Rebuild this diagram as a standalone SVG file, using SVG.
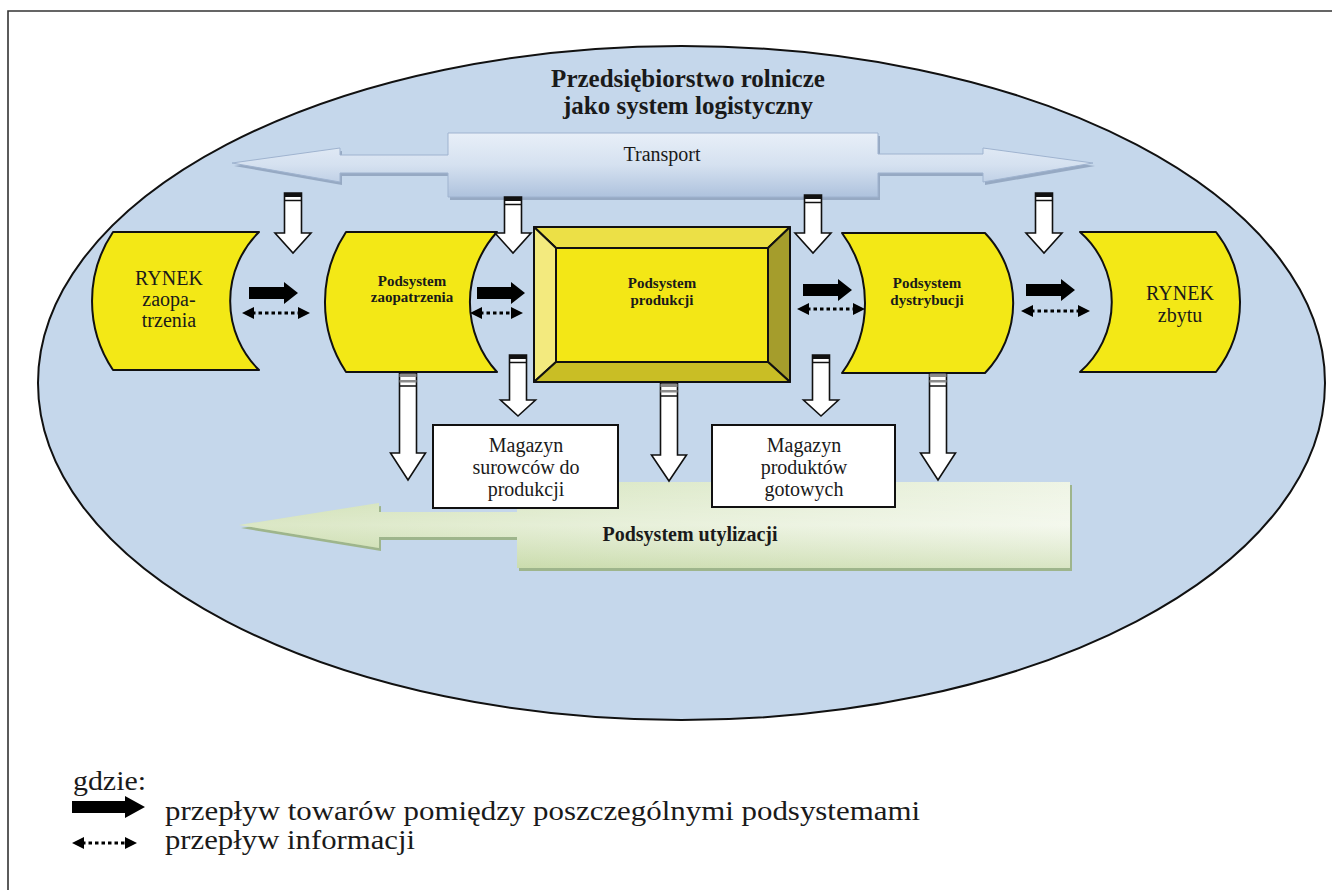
<svg xmlns="http://www.w3.org/2000/svg" width="1332" height="890" viewBox="0 0 1332 890">
<style>
.serif{font-family:"Liberation Serif","Times New Roman",serif;fill:#1a1a1a}
.b{font-weight:bold}
.node{fill:#f3e816;stroke:#111;stroke-width:2;stroke-linejoin:round}
.blk{fill:#fff;stroke:#111;stroke-width:1.6;stroke-linejoin:miter}
.thick{fill:#000}
.dotted{stroke:#000;stroke-width:3.2;stroke-dasharray:3.5 3}
.bev{stroke:#111;stroke-width:2;stroke-linejoin:round}
.box{fill:#fff;stroke:#111;stroke-width:2}
</style>
<defs>
<linearGradient id="tg" x1="0" y1="0" x2="0" y2="1">
<stop offset="0" stop-color="#e8eff8"/>
<stop offset="0.5" stop-color="#d5e1f0"/>
<stop offset="1" stop-color="#aec2dd"/>
</linearGradient>
<linearGradient id="ug" x1="0" y1="0" x2="1" y2="0">
<stop offset="0" stop-color="#c7daa6"/>
<stop offset="0.45" stop-color="#dbe8c6"/>
<stop offset="1" stop-color="#eef4e4"/>
</linearGradient>
<linearGradient id="ug2" x1="0" y1="0" x2="0" y2="1">
<stop offset="0" stop-color="#ffffff" stop-opacity="0.05"/>
<stop offset="0.5" stop-color="#ffffff" stop-opacity="0.35"/>
<stop offset="1" stop-color="#b9cf94" stop-opacity="0.4"/>
</linearGradient>
<marker id="ih" viewBox="0 0 12 12" refX="2" refY="6" markerWidth="12" markerHeight="12" markerUnits="userSpaceOnUse" orient="auto-start-reverse">
<path d="M0,0 L12,6 L0,12 Z" fill="#000"/>
</marker>
</defs>

<rect width="1332" height="890" fill="#fff"/>
<path d="M8,890 V11 H1332" fill="none" stroke="#333" stroke-width="1.6"/>

<g id="enterprise">
<ellipse cx="681.5" cy="383" rx="643.5" ry="337" fill="#c5d7eb" stroke="#111" stroke-width="2"/>
<text class="serif b" x="688" y="87" font-size="25" text-anchor="middle">Przedsiębiorstwo rolnicze</text>
<text class="serif b" x="688" y="114" font-size="25" text-anchor="middle">jako system logistyczny</text>
</g>

<g id="transport">
<path d="M232,163 L340,148 V155 H448 V133 H878 V154 H983 V148 L1093,163 L983,182 V173 H878 V197 H448 V173 H340 V182 Z" transform="translate(2,3)" fill="#8195b2" opacity="0.7"/>
<path d="M232,163 L340,148 V155 H448 V133 H878 V154 H983 V148 L1093,163 L983,182 V173 H878 V197 H448 V173 H340 V182 Z" fill="url(#tg)" stroke="#9fb3cf" stroke-width="1"/>
<text class="serif" x="662" y="161" font-size="20" text-anchor="middle" fill="#333">Transport</text>
</g>

<g id="utylizacja">
<path d="M239,525 L379,503 V512 H517 V482 H1070 V568 H517 V537 H379 V548 Z" transform="translate(2,3)" fill="#94ad74" opacity="0.8"/>
<path d="M239,525 L379,503 V512 H517 V482 H1070 V568 H517 V537 H379 V548 Z" fill="url(#ug)"/>
<path d="M239,525 L379,503 V512 H517 V482 H1070 V568 H517 V537 H379 V548 Z" fill="url(#ug2)"/>
<text class="serif b" x="690" y="541" font-size="20" text-anchor="middle">Podsystem utylizacji</text>
</g>

<g id="rynek-zaopatrzenia">
<path class="node" d="M113,232 H259 A97,97 0 0 0 259,370 H113 A124,124 0 0 1 113,232 Z"/>
<text class="serif" x="169" y="285" font-size="20" text-anchor="middle">RYNEK</text>
<text class="serif" x="169" y="306" font-size="20" text-anchor="middle">zaopa-</text>
<text class="serif" x="169" y="327" font-size="20" text-anchor="middle">trzenia</text>
</g>

<g id="podsystem-zaopatrzenia">
<path class="node" d="M346,232 H497 A104,104 0 0 0 497,372 H346 A127,127 0 0 1 346,232 Z"/>
<text class="serif b" x="412" y="286" font-size="15" text-anchor="middle">Podsystem</text>
<text class="serif b" x="412" y="302" font-size="15" text-anchor="middle">zaopatrzenia</text>
</g>

<g id="podsystem-produkcji">
<polygon class="bev" points="534,227 790,227 768,248 556,248" fill="#ece046"/>
<polygon class="bev" points="534,227 556,248 556,362 534,382" fill="#f3ea7e"/>
<polygon class="bev" points="790,227 790,382 768,362 768,248" fill="#a59d2c"/>
<polygon class="bev" points="534,382 790,382 768,362 556,362" fill="#c9be25"/>
<rect x="556" y="248" width="212" height="114" fill="#f3e716" stroke="#111" stroke-width="2"/>
<text class="serif b" x="662" y="288" font-size="15" text-anchor="middle">Podsystem</text>
<text class="serif b" x="662" y="305" font-size="15" text-anchor="middle">produkcji</text>
</g>

<g id="podsystem-dystrybucji">
<path class="node" d="M842,233 H985 A101,101 0 0 1 985,373 H842 A118,118 0 0 0 842,233 Z"/>
<text class="serif b" x="927" y="288" font-size="15" text-anchor="middle">Podsystem</text>
<text class="serif b" x="927" y="305" font-size="15" text-anchor="middle">dystrybucji</text>
</g>

<g id="rynek-zbytu">
<path class="node" d="M1080,232 H1216 A114,114 0 0 1 1216,372 H1080 A93,93 0 0 0 1080,232 Z"/>
<text class="serif" x="1180" y="300" font-size="20" text-anchor="middle">RYNEK</text>
<text class="serif" x="1180" y="322" font-size="20" text-anchor="middle">zbytu</text>
</g>

<g id="magazyn-surowcow">
<rect class="box" x="433" y="425" width="185" height="83"/>
<text class="serif" x="526" y="452" font-size="20" text-anchor="middle">Magazyn</text>
<text class="serif" x="526" y="474" font-size="20" text-anchor="middle">surowców do</text>
<text class="serif" x="526" y="496" font-size="20" text-anchor="middle">produkcji</text>
</g>

<g id="magazyn-produktow">
<rect class="box" x="712" y="425" width="183" height="82"/>
<text class="serif" x="804" y="452" font-size="20" text-anchor="middle">Magazyn</text>
<text class="serif" x="804" y="474" font-size="20" text-anchor="middle">produktów</text>
<text class="serif" x="804" y="496" font-size="20" text-anchor="middle">gotowych</text>
</g>

<g id="connectors">
<path class="blk" d="M284.5,193 H301.5 V233 H311 L293,253 L275,233 H284.5 Z"/>
<rect x="284.5" y="193" width="17" height="4" fill="#111"/><line x1="284.5" y1="200.5" x2="301.5" y2="200.5" stroke="#111" stroke-width="1.5"/>
<path class="blk" d="M504.5,197 H521.5 V233 H531 L513,253 L495,233 H504.5 Z"/>
<rect x="504.5" y="197" width="17" height="4" fill="#111"/><line x1="504.5" y1="204.5" x2="521.5" y2="204.5" stroke="#111" stroke-width="1.5"/>
<path class="blk" d="M804.5,195 H821.5 V233 H831 L813,253 L795,233 H804.5 Z"/>
<rect x="804.5" y="195" width="17" height="4" fill="#111"/><line x1="804.5" y1="202.5" x2="821.5" y2="202.5" stroke="#111" stroke-width="1.5"/>
<path class="blk" d="M1035.5,193 H1052.5 V233 H1062 L1044,253 L1026,233 H1035.5 Z"/>
<rect x="1035.5" y="193" width="17" height="4" fill="#111"/><line x1="1035.5" y1="200.5" x2="1052.5" y2="200.5" stroke="#111" stroke-width="1.5"/>

<path class="blk" d="M399.5,373 H416.5 V453 H425.5 L408,480 L390.5,453 H399.5 Z"/>
<rect x="399.5" y="374" width="17" height="3" fill="#8a8a8a"/><rect x="399.5" y="380" width="17" height="2.5" fill="#8a8a8a"/><line x1="399.5" y1="386" x2="416.5" y2="386" stroke="#111" stroke-width="1.5"/>
<path class="blk" d="M509.5,355 H526.5 V400 H535.5 L518,416 L500.5,400 H509.5 Z"/>
<rect x="509.5" y="355" width="17" height="4" fill="#111"/><line x1="509.5" y1="362.5" x2="526.5" y2="362.5" stroke="#111" stroke-width="1.5"/>
<path class="blk" d="M660.5,383 H677.5 V455 H686.5 L669,481 L651.5,455 H660.5 Z"/>
<rect x="660.5" y="384" width="17" height="3" fill="#8a8a8a"/><rect x="660.5" y="390" width="17" height="2.5" fill="#8a8a8a"/><line x1="660.5" y1="396" x2="677.5" y2="396" stroke="#111" stroke-width="1.5"/>
<path class="blk" d="M812.5,355 H829.5 V400 H838.5 L821,416 L803.5,400 H812.5 Z"/>
<rect x="812.5" y="355" width="17" height="4" fill="#111"/><line x1="812.5" y1="362.5" x2="829.5" y2="362.5" stroke="#111" stroke-width="1.5"/>
<path class="blk" d="M929.5,373 H946.5 V453 H955.5 L938,480 L920.5,453 H929.5 Z"/>
<rect x="929.5" y="374" width="17" height="3" fill="#8a8a8a"/><rect x="929.5" y="380" width="17" height="2.5" fill="#8a8a8a"/><line x1="929.5" y1="386" x2="946.5" y2="386" stroke="#111" stroke-width="1.5"/>

<path class="thick" d="M249,287 H284 V282 L298,293 L284,304 V299 H249 Z"/>
<path class="thick" d="M477,287 H511 V282 L525,293 L511,304 V299 H477 Z"/>
<path class="thick" d="M803,284 H838 V279 L852,290 L838,301 V296 H803 Z"/>
<path class="thick" d="M1026,284 H1061 V279 L1075,290 L1061,301 V296 H1026 Z"/>

<line class="dotted" x1="252" y1="313" x2="300" y2="313" marker-start="url(#ih)" marker-end="url(#ih)"/>
<line class="dotted" x1="480" y1="313" x2="513" y2="313" marker-start="url(#ih)" marker-end="url(#ih)"/>
<line class="dotted" x1="807" y1="309" x2="855" y2="309" marker-start="url(#ih)" marker-end="url(#ih)"/>
<line class="dotted" x1="1031" y1="311" x2="1080" y2="311" marker-start="url(#ih)" marker-end="url(#ih)"/>
</g>

<g id="legend">
<text class="serif" x="73" y="790" font-size="28" textLength="73" lengthAdjust="spacingAndGlyphs">gdzie:</text>
<path class="thick" d="M72,801 H125 V796 L145,807 L125,818 V813 H72 Z"/>
<line class="dotted" x1="82" y1="843" x2="127" y2="843" marker-start="url(#ih)" marker-end="url(#ih)"/>
<text class="serif" x="165" y="820" font-size="28" textLength="755" lengthAdjust="spacingAndGlyphs">przepływ towarów pomiędzy poszczególnymi podsystemami</text>
<text class="serif" x="165" y="849" font-size="28" textLength="250" lengthAdjust="spacingAndGlyphs">przepływ informacji</text>
</g>
</svg>
